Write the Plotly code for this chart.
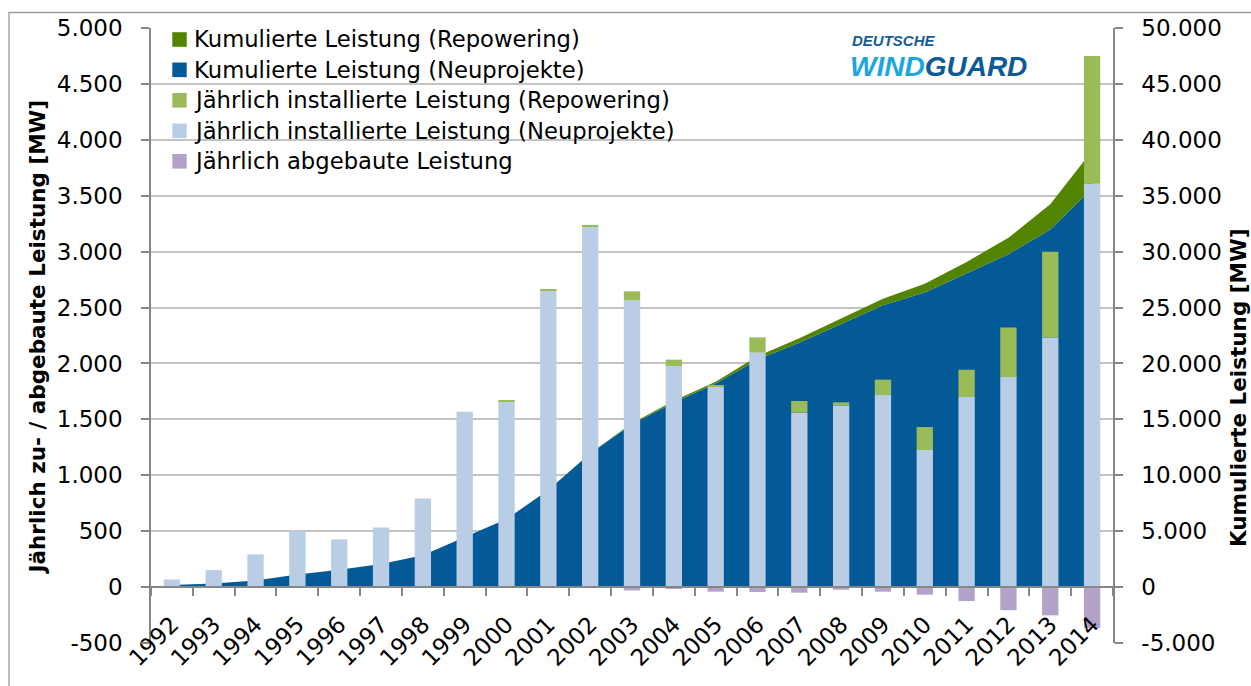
import plotly.graph_objects as go

# Windenergie an Land in Deutschland, 1992-2014 (MW)
years = [str(y) for y in range(1992, 2015)]

# jährlich installierte / abgebaute Leistung (linke Achse)
neu_annual = [68, 152, 292, 505, 426, 534, 793, 1568, 1662, 2655, 3229, 2564,
              1977, 1792, 2097, 1560, 1625, 1717, 1226, 1700, 1878, 2231, 3608]
rep_annual = [0, 0, 0, 0, 0, 0, 0, 0, 5, 6, 10, 81,
              57, 15, 136, 104, 27, 138, 205, 244, 444, 769, 1142]
abbau_annual = [0, 0, 0, 0, 0, 0, 0, 0, 0, 0, 0, -30,
                -12, -41, -44, -50, -24, -41, -68, -125, -206, -253, -367]

# kumulierte Leistung (rechte Achse)
neu_cum = [185, 330, 600, 1120, 1540, 2060, 2850, 4450, 6080, 8680, 11950, 14560,
           16500, 18200, 20340, 21850, 23550, 25200, 26350, 28050, 29760, 31990, 35650]
rep_cum = [0, 0, 0, 0, 0, 0, 0, 0, 5, 11, 21, 102,
           159, 174, 310, 414, 441, 579, 784, 1028, 1472, 2241, 3383]

# Achsenteilung
left_ticks = list(range(-500, 5001, 500))
right_ticks = list(range(-5000, 50001, 5000))

legend_items = [
    ("Kumulierte Leistung (Repowering)", "#538400"),
    ("Kumulierte Leistung (Neuprojekte)", "#045a96"),
    ("Jährlich installierte Leistung (Repowering)", "#9bbb59"),
    ("Jährlich installierte Leistung (Neuprojekte)", "#b9cde5"),
    ("Jährlich abgebaute Leistung", "#b3a2c7"),
]

C_CUM_NEU = "#045a96"
C_CUM_REP = "#538400"
C_NEU = "#b9cde5"
C_REP = "#9bbb59"
C_ABB = "#b3a2c7"

W, H = 1251, 686
L, R, T, B = 151, 138, 28, 43
PW, PH = W - L - R, H - T - B


def px(x):
    return (x - L) / PW


def py(y):
    return (H - B - y) / PH


def de_num(v):
    # deutsches Zahlenformat mit Punkt als Tausendertrenner
    return f"{v:,}".replace(",", ".")


FONT = "DejaVu Sans"
AX = "#868686"
GRID = "#c3c3c3"

fig = go.Figure()

# kumulierte Flächen (Hauptachse rechts, liegen hinter den Balken)
fig.add_trace(go.Scatter(x=years, y=neu_cum, name="Kumulierte Leistung (Neuprojekte)",
                         stackgroup="cum", mode="lines", line=dict(width=0),
                         fillcolor=C_CUM_NEU, yaxis="y", showlegend=False))
fig.add_trace(go.Scatter(x=years, y=rep_cum, name="Kumulierte Leistung (Repowering)",
                         stackgroup="cum", mode="lines", line=dict(width=0),
                         fillcolor=C_CUM_REP, yaxis="y", showlegend=False))

# jährliche Balken (überlagerte Achse links)
fig.add_trace(go.Bar(x=years, y=neu_annual, name="Jährlich installierte Leistung (Neuprojekte)",
                     marker=dict(color=C_NEU, line=dict(width=0)),
                     yaxis="y2", showlegend=False))
fig.add_trace(go.Bar(x=years, y=rep_annual, name="Jährlich installierte Leistung (Repowering)",
                     marker=dict(color=C_REP, line=dict(width=0)),
                     yaxis="y2", showlegend=False))
fig.add_trace(go.Bar(x=years, y=abbau_annual, name="Jährlich abgebaute Leistung",
                     marker=dict(color=C_ABB, line=dict(width=0)),
                     yaxis="y2", showlegend=False))

shapes = []
annotations = []

# Legende
row_y = [39.5, 69.8, 100.3, 130.8, 161.3]
for (label, color), yc in zip(legend_items, row_y):
    shapes.append(dict(type="rect", xref="paper", yref="paper",
                       x0=px(172.3), x1=px(186.7), y0=py(yc + 7.3), y1=py(yc - 7.3),
                       fillcolor=color, line=dict(width=0), layer="above"))
    annotations.append(dict(text=label, xref="paper", yref="paper",
                            x=px(192), y=py(yc), xanchor="left", yanchor="middle",
                            showarrow=False, font=dict(family=FONT, size=22.7, color="#000000")))

# Achsentitel
annotations.append(dict(text="<b>Jährlich zu- / abgebaute Leistung [MW]</b>",
                        xref="paper", yref="paper", x=px(37), y=py(337.5),
                        xanchor="center", yanchor="middle", textangle=-90, showarrow=False,
                        font=dict(family=FONT, size=21.5, color="#000000")))
annotations.append(dict(text="<b>Kumulierte Leistung [MW]</b>",
                        xref="paper", yref="paper", x=px(1238), y=py(388),
                        xanchor="center", yanchor="middle", textangle=-90, showarrow=False,
                        font=dict(family=FONT, size=21.5, color="#000000")))

# Logo
annotations.append(dict(text="<b><i>DEUTSCHE</i></b>", xref="paper", yref="paper",
                        x=px(850), y=py(40), xanchor="left", yanchor="middle", showarrow=False,
                        font=dict(family="Liberation Sans Narrow, Liberation Sans", size=15,
                                  color="#175b97")))
annotations.append(dict(text="<b><i><span style='color:#1aa7e0'>WIND</span>"
                             "<span style='color:#0c5a96'>GUARD</span></i></b>",
                        xref="paper", yref="paper", x=px(848), y=py(66.5),
                        xanchor="left", yanchor="middle", showarrow=False,
                        font=dict(family="Liberation Sans Narrow, Liberation Sans", size=28)))

# Rahmen um die Grafik
shapes.append(dict(type="rect", xref="paper", yref="paper",
                   x0=px(9), x1=px(1256), y0=py(700), y1=py(12.5),
                   line=dict(color="#9a9a9a", width=1.3), fillcolor="rgba(0,0,0,0)",
                   layer="below"))

tickfont = dict(family=FONT, size=23, color="#000000")

fig.update_layout(
    width=W, height=H, autosize=False,
    margin=dict(l=L, r=R, t=T, b=B, pad=0),
    paper_bgcolor="white", plot_bgcolor="white",
    barmode="relative", bargap=0.61,
    showlegend=False,
    shapes=shapes, annotations=annotations,
    xaxis=dict(type="category", range=[-0.5, 22.5], anchor="free", position=1 / 11,
               tickson="boundaries", ticks="outside", ticklen=8, tickwidth=1.5, tickcolor=AX,
               showline=True, linecolor=AX, linewidth=1.5, showgrid=False, zeroline=False,
               tickangle=-45, tickfont=tickfont, ticklabelstandoff=14),
    yaxis=dict(side="right", range=[-5000, 50000],
               tickmode="array", tickvals=right_ticks, ticktext=[de_num(v) for v in right_ticks],
               showline=True, linecolor=AX, linewidth=1.5, ticks="outside", ticklen=8,
               tickwidth=1.5, tickcolor=AX, showgrid=True, gridcolor=GRID, gridwidth=1.5,
               zeroline=False, tickfont=tickfont, ticklabelstandoff=14),
    yaxis2=dict(overlaying="y", side="left", range=[-500, 5000],
                tickmode="array", tickvals=left_ticks, ticktext=[de_num(v) for v in left_ticks],
                showline=True, linecolor=AX, linewidth=1.5, ticks="outside",
                ticklen=8, tickwidth=1.5, tickcolor=AX, showgrid=False, zeroline=False,
                tickfont=tickfont, ticklabelstandoff=14),
)

fig.write_html("out.html")
